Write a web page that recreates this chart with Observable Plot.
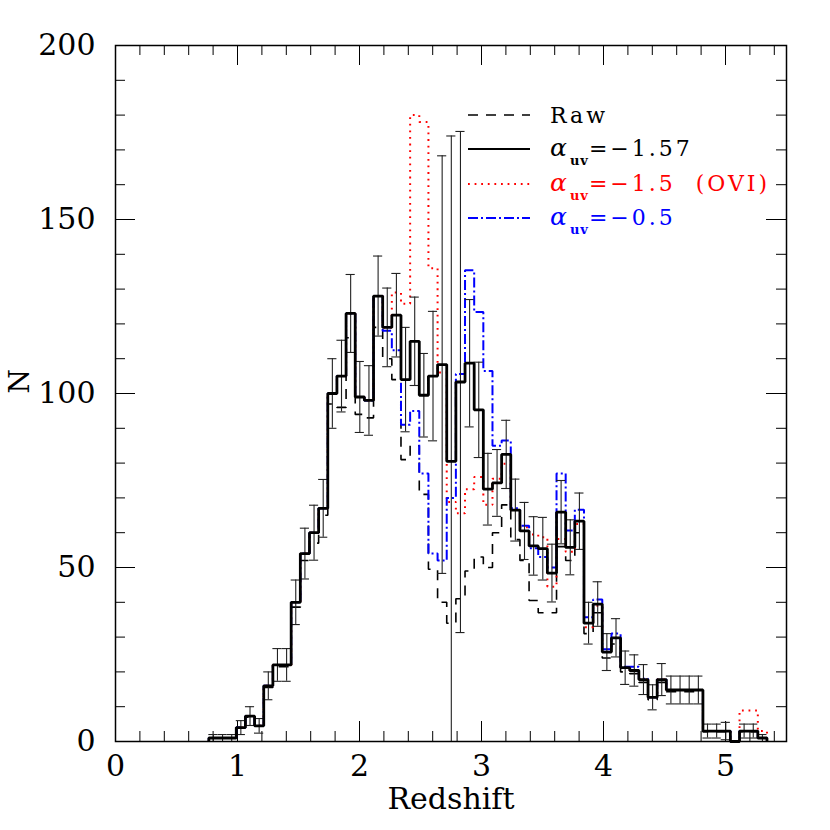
<!DOCTYPE html>
<html><head><meta charset="utf-8">
<script src="https://cdn.jsdelivr.net/npm/d3@7"></script>
<script src="https://cdn.jsdelivr.net/npm/@observablehq/plot@0.6"></script>
<style>body{margin:0;background:#fff} svg{display:block}</style>
</head><body><div id="chart"></div>
<script>
// Histogram bin edges (redshift)
const binEdges = [0.765, 0.84, 0.915, 0.99, 1.065, 1.14, 1.215, 1.29, 1.365, 1.44, 1.515, 1.59, 1.665, 1.74, 1.815, 1.89, 1.965, 2.04, 2.115, 2.19, 2.265, 2.34, 2.415, 2.49, 2.565, 2.64, 2.715, 2.79, 2.865, 2.94, 3.015, 3.09, 3.165, 3.24, 3.315, 3.39, 3.465, 3.54, 3.615, 3.69, 3.765, 3.84, 3.915, 3.99, 4.065, 4.14, 4.215, 4.29, 4.365, 4.44, 4.515, 4.59, 4.665, 4.74, 4.815, 4.89, 4.965, 5.04, 5.115, 5.19, 5.265, 5.34];

// Raw counts (dashed)
const rawN = [1, 1, 1, 4, 7, 4.5, 15.5, 21.5, 21.5, 38.6,
  52, 57, 65, 97, 96, 116, 94, 93, 119, 110,
  104, 81, 85, 71, 49.5, 40, 34, 41, 49, 53,
  50, 60, 68, 58, 52, 40.5, 37, 37, 56, 52,
  60, 31, 37, 24, 28, 20, 19.5, 17, 12, 17,
  14.3, 14.3, 14.3, 14.3, 2.8, 2.8, 2.8, 0, 2.8, 2.8,
  1];

// alpha_uv = -1.57 (solid black)
const alpha157N = [1, 1, 1, 4, 7.3, 4.5, 16, 22, 22, 40,
  54, 60, 67, 100, 105, 123, 99, 98, 128, 119,
  122.5, 104, 115, 99.5, 105, 108.3, 80.5, 103.3, 108.7, 95.3,
  72.5, 74.3, 82.5, 66.5, 60.5, 56.2, 55.4, 48.4, 65.9, 55.8,
  63.3, 34, 39.5, 25.7, 29.8, 21.2, 20.4, 17.8, 12.7, 17.8,
  14.8, 14.8, 14.8, 14.8, 3, 3, 3, 0, 3, 3,
  1];

// errors on the alpha_uv = -1.57 histogram
const alpha157Err = [1, 1, 1, 2, 2.7, 2.1, 4, 4.7, 4.7, 6.4,
  7.3, 7.9, 8.3, 10, 10.3, 11.2, 10.2, 10, 11.5, 11.3,
  12, 15, 12.7, 12, 18.6, 60, 93.5, 72, 18.3, 13.7,
  10.3, 9.6, 9.8, 8.9, 8.2, 8.4, 9, 8.3, 9.1, 7.9,
  8.1, 6, 6.4, 5.3, 5.5, 4.8, 4.5, 4.3, 3.6, 4.6,
  4, 4, 4, 4, 2, 2, 2.5, 0, 2, 2,
  1];

// alpha_uv = -1.5 (OVI) (red dotted)
const alpha15N = [1, 1, 1, 4, 7.3, 4.5, 16, 22, 22, 40,
  54, 60, 67, 100, 105, 123, 99, 98, 128, 119,
  129, 125.8, 180, 178, 136, 106, 68.8, 65.6, 72.5, 76,
  68, 75.5, 79.8, 66.5, 61.6, 59.5, 58.7, 44.5, 58.2, 54.5,
  62.5, 32.8, 39, 25.7, 29.8, 21.2, 20.4, 17.8, 12.7, 17.8,
  14.8, 14.8, 14.8, 14.8, 3, 3, 3, 0, 8.9, 8.9,
  3];

// alpha_uv = -0.5 (blue dash-dot)
const alpha05N = [1, 1, 1, 4, 7.3, 4.5, 16, 22, 22, 40,
  54, 60, 67, 100, 105, 123, 99, 98, 128, 118,
  112.4, 91, 95, 77, 54, 52, 70, 105.6, 135.4, 123.4,
  106.5, 85, 86.5, 67, 62, 55.5, 53, 50, 77, 60.6,
  66.6, 35.7, 40.8, 26.5, 31, 21.5, 21.5, 18, 12.7, 17.8,
  14.8, 14.8, 14.8, 14.8, 3, 3, 3, 0, 3, 3,
  1];

const xTickLabels = [0, 1, 2, 3, 4, 5];
const yTickLabels = [0, 50, 100, 150, 200];

const W = 830, H = 830;
const M = {top: 45, right: 44, bottom: 89, left: 115};
const innerW = W - M.left - M.right, innerH = H - M.top - M.bottom;
const FONT = "DejaVu Serif";

const n = alpha157N.length;
function stepPoints(vals) {
  const pts = [{x: binEdges[0], y: 0}];
  vals.forEach((v, i) => pts.push({x: binEdges[i], y: v}));
  pts.push({x: binEdges[n], y: vals[n - 1]});
  pts.push({x: binEdges[n], y: 0});
  return pts;
}
const bins = alpha157N.map((v, i) => ({
  lo: binEdges[i], hi: binEdges[i + 1], mid: (binEdges[i] + binEdges[i + 1]) / 2,
  v, err: alpha157Err[i]
})).filter(b => b.err > 0);

const xMinor = d3.range(0, 5.5001, 0.2).filter(t => Math.abs(t - Math.round(t)) > 1e-6);
const yMinor = d3.range(0, 200.001, 10).filter(t => t % 50 !== 0);

const lineOpts = {x: "x", y: "y", curve: "step-after", strokeLinejoin: "miter", strokeLinecap: "butt"};

const plot = Plot.plot({
  width: W, height: H,
  marginTop: M.top, marginRight: M.right, marginBottom: M.bottom, marginLeft: M.left,
  x: {domain: [0, 5.5], axis: null},
  y: {domain: [0, 200], axis: null},
  style: {background: "#fff", overflow: "visible"},
  marks: [
    // ticks (inward) bottom / top
    Plot.ruleX(xMinor, {x: d => d, insetTop: innerH - 10, stroke: "#000", strokeWidth: 1}),
    Plot.ruleX(xTickLabels, {x: d => d, insetTop: innerH - 20, stroke: "#000", strokeWidth: 1}),
    Plot.ruleX(xMinor, {x: d => d, insetBottom: innerH - 10, stroke: "#000", strokeWidth: 1}),
    Plot.ruleX(xTickLabels, {x: d => d, insetBottom: innerH - 20, stroke: "#000", strokeWidth: 1}),
    // ticks left / right
    Plot.ruleY(yMinor, {y: d => d, insetRight: innerW - 10, stroke: "#000", strokeWidth: 1}),
    Plot.ruleY(yTickLabels, {y: d => d, insetRight: innerW - 20, stroke: "#000", strokeWidth: 1}),
    Plot.ruleY(yMinor, {y: d => d, insetLeft: innerW - 10, stroke: "#000", strokeWidth: 1}),
    Plot.ruleY(yTickLabels, {y: d => d, insetLeft: innerW - 20, stroke: "#000", strokeWidth: 1}),
    // histograms
    Plot.line(stepPoints(rawN), {...lineOpts, stroke: "#000", strokeWidth: 1.6, strokeDasharray: "10,8"}),
    Plot.line(stepPoints(alpha15N), {...lineOpts, stroke: "#ff0000", strokeWidth: 2, strokeDasharray: "1.8,4.8"}),
    Plot.line(stepPoints(alpha05N), {...lineOpts, stroke: "#0000ff", strokeWidth: 2, strokeDasharray: "10,3,2,3"}),
    // error bars
    Plot.ruleX(bins, {x: "mid", y1: b => Math.max(0, b.v - b.err), y2: b => b.v + b.err, stroke: "#222", strokeWidth: 1.1}),
    Plot.ruleY(bins, {y: b => b.v + b.err, x1: "lo", x2: "hi", stroke: "#222", strokeWidth: 1.1}),
    Plot.ruleY(bins.filter(b => b.v - b.err > 0), {y: b => b.v - b.err, x1: "lo", x2: "hi", stroke: "#222", strokeWidth: 1.1}),
    Plot.line(stepPoints(alpha157N), {...lineOpts, stroke: "#000", strokeWidth: 2.8}),
    Plot.frame({stroke: "#000", strokeWidth: 1.5}),
    // tick labels
    Plot.text(xTickLabels, {x: d => d, text: d => String(d), frameAnchor: "bottom", dy: 34, fontSize: 30, fontFamily: FONT, fill: "#000"}),
    Plot.text(yTickLabels, {y: d => d, text: d => String(d), frameAnchor: "left", dx: -20, textAnchor: "end", fontSize: 30, fontFamily: FONT, fill: "#000"}),
    Plot.text(["Redshift"], {text: d => d, frameAnchor: "bottom", dy: 67, fontSize: 30, fontFamily: FONT, fill: "#000"}),
    Plot.text(["N"], {text: d => d, frameAnchor: "left", dx: -95, rotate: -90, fontSize: 28, fontFamily: FONT, fill: "#000"})
  ]
});

// Legend
const legend = [
  {label: null, text: "Raw", color: "#000", dash: "10,8", width: 1.6, ly: 115},
  {label: "=−1.57", color: "#000", dash: null, width: 2.2, ly: 149},
  {label: "=−1.5  (OVI)", color: "#ff0000", dash: "1.8,4.8", width: 1.8, ly: 184},
  {label: "=−0.5", color: "#0000ff", dash: "10,3,2,3", width: 1.8, ly: 218}
];
const svg = d3.select(plot);
const g = svg.append("g").attr("font-family", FONT).attr("text-anchor", "start");
legend.forEach(d => {
  g.append("line").attr("x1", 468).attr("x2", 530).attr("y1", d.ly).attr("y2", d.ly)
    .attr("stroke", d.color).attr("stroke-width", d.width)
    .attr("stroke-dasharray", d.dash);
  const t = g.append("text").attr("x", 550).attr("y", d.ly + 7).attr("fill", d.color)
    .attr("text-anchor", "start")
    .attr("font-size", 22).attr("letter-spacing", 3).style("white-space", "pre");
  if (d.text) {
    t.attr("y", d.ly + 8).text(d.text);
  } else {
    t.append("tspan").attr("font-style", "italic").attr("font-size", 25).text("α");
    t.append("tspan").attr("font-weight", "bold").attr("font-size", 13).attr("dy", 9).attr("letter-spacing", 1).text("uv");
    t.append("tspan").attr("dy", -9).text(d.label);
  }
});

document.getElementById("chart").appendChild(plot);
</script>
</body></html>
